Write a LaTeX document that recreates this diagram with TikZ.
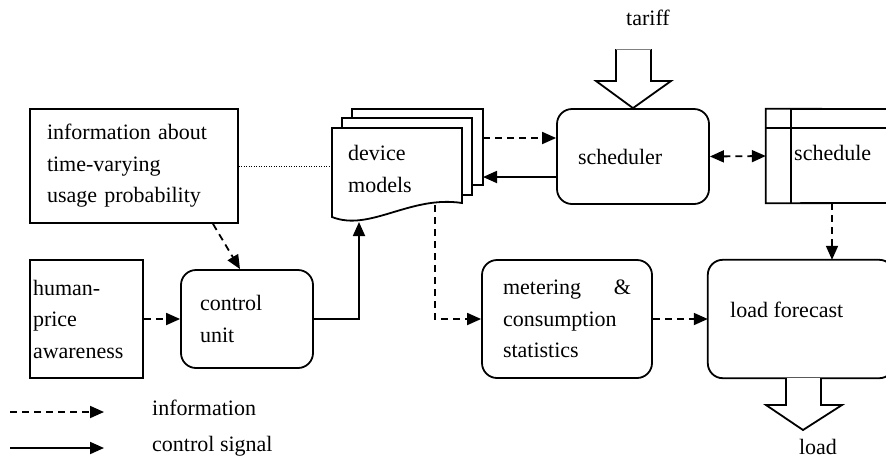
\documentclass[tikz,border=0pt]{standalone}
\usepackage{fontspec}
\setmainfont{Liberation Serif}
\usetikzlibrary{arrows.meta}
\begin{document}
\begin{tikzpicture}[x=1pt,y=-1pt,
  every node/.style={font=\fontsize{22}{31.5}\selectfont},
  lw/.style={line width=1.8pt},
  txt/.style={inner sep=0pt},
  box/.style={draw, lw, inner ysep=0pt, align=left},
  rbox/.style={box, rounded corners=15pt},
  tip/.style={-{Triangle[length=14pt,width=12pt]}},
  infoline/.style={lw, dash pattern=on 7pt off 5pt, tip},
  ctrlline/.style={lw, tip},
  sheet/.style={draw, fill=white, lw, line join=miter},
  bigarrow/.style={draw, lw, fill=white, line join=miter}
]
\useasboundingbox (0,0) rectangle (886,459);

% boxes
\node[box, minimum width=208pt, minimum height=114pt, inner xsep=17pt, text width=174pt]
  (infobox) at (134,166) {information about\\ time-varying\\ usage probability};
\node[box, minimum width=113pt, minimum height=118pt, inner xsep=3pt, text width=107pt]
  (human) at (86.5,319) {human-\\ price\\ awareness};
\node[rbox, minimum width=132pt, minimum height=98pt, inner xsep=19pt, text width=94pt]
  (ctrl) at (247,319) {control\\ unit};
\node[rbox, minimum width=170pt, minimum height=118pt, inner xsep=21pt, text width=128pt]
  (meter) at (567,319) {\makebox[128pt][s]{metering\hfill\&}\\ consumption\\ statistics};
\node[rbox, minimum width=152pt, minimum height=95pt, inner xsep=21pt, text width=110pt]
  (sched) at (633,156.5) {scheduler};

% load forecast box, cut off by the right edge of the page
\node[minimum width=186pt, minimum height=118pt] (lf) at (801,319) {};
\begin{scope}
  \clip (700,250) rectangle (886,390);
  \draw[lw, rounded corners=15pt] (lf.north west) rectangle (lf.south east);
\end{scope}
\node[txt, anchor=west] (lftext) at (730,310) {load forecast};

% schedule table, open towards the right edge
\node[minimum width=144pt, minimum height=94pt] (sch) at (838,156) {};
\draw[lw] (886,109) -- (sch.north west) -- (sch.south west) -- (886,203);
\draw[lw] ([xshift=25pt]sch.north west) -- ([xshift=25pt]sch.south west);
\draw[lw] (766,128) -- (886,128);
\node[txt, anchor=west] (schtext) at (794,153) {schedule};

% stack of device model sheets
\path[sheet] (352,109) rectangle (483,185);
\path[sheet] (342,118) rectangle (472,195);
\path[sheet] (332,128) -- (462,128) -- (462,203)
  .. controls (410,195) and (370,232) .. (332,217) -- cycle;
\node[txt, anchor=west, align=left] (dm) at (348,169) {device\\ models};
\coordinate (dmR1) at (483,138);
\coordinate (dmR2) at (483,177);
\coordinate (dmB) at (435,205);
\coordinate (dmIn) at (359,222);
\coordinate (dmL) at (332,166);

% connectors
\draw[line width=0.9pt, dash pattern=on 1pt off 1.5pt] (infobox.east) -- (dmL);
\draw[infoline] ([xshift=79pt]infobox.south) -- ([xshift=-7pt]ctrl.north);
\draw[infoline] (human.east) -- (ctrl.west);
\draw[ctrlline] (ctrl.east) -| (dmIn);
\draw[infoline] (dmR1) -- (dmR1 -| sched.west);
\draw[ctrlline] (dmR2 -| sched.west) -- (dmR2);
\draw[infoline, {Triangle[length=14pt,width=12pt]}-{Triangle[length=14pt,width=12pt]}]
  (sched.east) -- (sch.west);
\draw[infoline] ([xshift=-6pt]sch.south) -- ([xshift=-6pt]sch.south |- lf.north);
\draw[infoline] (dmB) |- (meter.west);
\draw[infoline] (meter.east) -- (lf.west);

% tariff input arrow
\path[bigarrow] (616,49) -- (616,81) -- (596,81) -- (sched.north) -- (671,81)
  -- (651,81) -- (651,49);
\draw[line width=0.6pt, gray] (616,49) -- (651,49);
\node[txt] (tariff) at (648,18) {tariff};

% load output arrow
\path[bigarrow] (786,378) -- (786,405) -- (766,405) -- (803,430) -- (842,405)
  -- (821,405) -- (821,378);
\node[txt] (loadtext) at (818,447) {load};

% legend
\coordinate (la1) at (10,412);
\coordinate (lb1) at (104,412);
\coordinate (la2) at (10,448);
\coordinate (lb2) at (104,448);
\draw[infoline] (la1) -- (lb1);
\draw[ctrlline] (la2) -- (lb2);
\node[txt, anchor=west] (leginfo) at (152,408) {information};
\node[txt, anchor=west] (legctrl) at (152,446) {control signal};
\end{tikzpicture}
\end{document}
